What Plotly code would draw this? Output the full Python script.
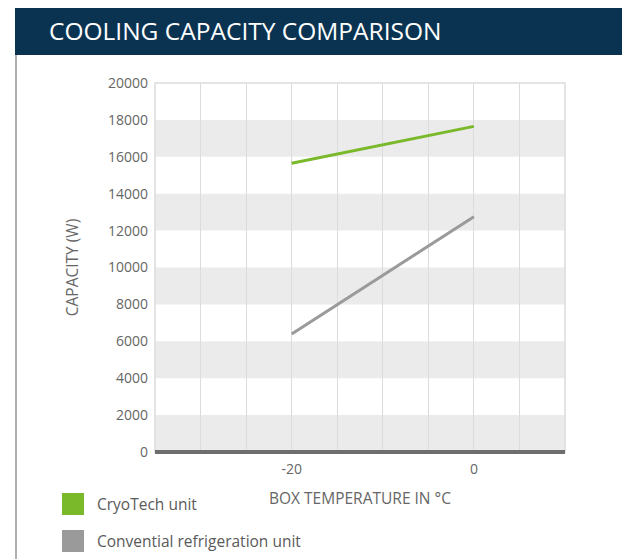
import plotly.graph_objects as go

# Data
temps = [-20, 0]
cryotech = [15650, 17650]
conventional = [6400, 12750]
series_names = ["CryoTech unit", "Convential refrigeration unit"]
series_colors = ["#7ab929", "#9a9a9a"]
y_ticks = list(range(0, 20001, 2000))
x_labels = {-20: "-20", 0: "0"}

OFF = 8  # page body margin
W, H = 630 - OFF, 559 - OFF
L, R, T, B = 155 - OFF, 65, 83 - OFF, 107
pw, ph = W - L - R, H - T - B

def px_x(p):
    return (p - OFF - L) / pw

def px_y(p):
    return (H - B - (p - OFF)) / ph

font = "Open Sans, Noto Sans, sans-serif"
fig = go.Figure()
for name, vals, col in zip(series_names, [cryotech, conventional], series_colors):
    fig.add_trace(go.Scatter(x=temps, y=vals, mode="lines", name=name,
                             line=dict(color=col, width=3), showlegend=False))

shapes = []
# alternating bands
for i in range(0, len(y_ticks) - 1, 2):
    shapes.append(dict(type="rect", xref="paper", yref="y", x0=0, x1=1,
                       y0=y_ticks[i], y1=y_ticks[i + 1], fillcolor="#ebebeb",
                       line=dict(width=0), layer="below"))
# title bar
shapes.append(dict(type="rect", xref="paper", yref="paper", x0=px_x(15), x1=px_x(640),
                   y0=px_y(55), y1=px_y(6), fillcolor="#0a3352", line=dict(width=0)))
# left border line
shapes.append(dict(type="line", xref="paper", yref="paper", x0=px_x(16), x1=px_x(16),
                   y0=px_y(55), y1=px_y(570), line=dict(color="#b0b0b0", width=2)))
# legend swatches
annotations = []
for k, (name, col) in enumerate(zip(series_names, series_colors)):
    yc = 504 + k * 37
    shapes.append(dict(type="rect", xref="paper", yref="paper", x0=px_x(62), x1=px_x(84),
                       y0=px_y(yc + 11), y1=px_y(yc - 11), fillcolor=col, line=dict(width=0)))
    annotations.append(dict(xref="paper", yref="paper", x=px_x(95), y=px_y(yc), text=name,
                            showarrow=False, xanchor="left", yanchor="middle",
                            font=dict(family=font, size=15.5, color="#5a5a5a")))

annotations.append(dict(xref="paper", yref="paper", x=px_x(47), y=px_y(31),
                        text="COOLING CAPACITY COMPARISON", showarrow=False,
                        xanchor="left", yanchor="middle",
                        font=dict(family=font, size=24.5, color="white")))

fig.update_layout(
    width=W, height=H, margin=dict(l=L, r=R, t=T, b=B),
    paper_bgcolor="white", plot_bgcolor="white",
    shapes=shapes, annotations=annotations,
    font=dict(family=font, color="#666666"),
    xaxis=dict(range=[-35, 10], tickvals=list(x_labels.keys()), ticktext=list(x_labels.values()),
               showgrid=False, zeroline=False, showline=False,
               minor=dict(dtick=5, tick0=0, showgrid=True, gridcolor="#dcdcdc", gridwidth=1),
               tickfont=dict(size=14, color="#666666"),
               title=dict(text="BOX TEMPERATURE IN °C", font=dict(size=15.5, color="#666666"), standoff=16),
               ticks="", ticklabelstandoff=7),
    yaxis=dict(range=[0, 20000], tickvals=y_ticks, tickformat="d", showgrid=False, zeroline=False,
               showline=False, tickfont=dict(size=14, color="#666666"),
               title=dict(text="CAPACITY (W)", font=dict(size=15.5, color="#666666"), standoff=25),
               ticks="", ticklabelstandoff=6),
)
# top/right light border and thick bottom axis
fig.add_shape(type="rect", xref="paper", yref="paper", x0=0, x1=1, y0=0, y1=1,
              line=dict(color="#dcdcdc", width=1.5))
fig.add_shape(type="line", xref="paper", yref="paper", x0=0, x1=1, y0=0, y1=0,
              line=dict(color="#6e6e6e", width=4))

fig.write_html("out.html")
